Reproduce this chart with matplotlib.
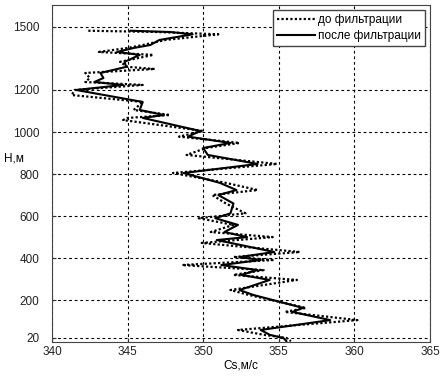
import numpy as np
import matplotlib.pyplot as plt
plt.rcParams["font.family"] = ["Liberation Sans", "DejaVu Sans"]
plt.rcParams.update({'font.size': 8})

# depth (m) and shear-wave velocity (m/s)
depth_raw = [1482, 1476, 1465, 1438, 1414, 1400, 1381, 1367, 1334, 1310, 1300,
             1281, 1257, 1238, 1224, 1200, 1176, 1143, 1105, 1081, 1067, 1057,
             1005, 978, 948, 924, 891, 848, 805, 758, 724, 700, 660, 613, 590,
             558, 524, 500, 472, 429, 405, 391, 367, 343, 320, 296, 248, 225,
             163, 144, 105, 58, 35, 20, 5]
cs_raw = [342.4, 347.0, 351.0, 347.5, 346.0, 345.0, 343.1, 346.7, 344.5, 345.0, 346.8,
          342.2, 342.5, 342.2, 346.0, 341.5, 341.3, 346.0, 345.4, 347.8, 345.0, 344.7,
          350.0, 348.4, 352.4, 350.2, 348.9, 354.9, 348.0, 351.5, 353.6, 350.6, 351.5, 352.8, 349.7,
          352.0, 350.5, 354.6, 349.9, 356.4, 352.0, 354.7, 348.6, 354.0, 352.0, 356.2, 351.8, 353.0,
          356.8, 355.4, 360.2, 352.3, 354.0, 355.5, 355.8]

depth_flt = [1482, 1476, 1465, 1438, 1414, 1400, 1381, 1367, 1334, 1310, 1281,
             1257, 1238, 1224, 1200, 1143, 1105, 1081, 1067, 1005, 978, 948,
             924, 891, 848, 805, 758, 724, 700, 660, 613, 590, 558, 524, 500,
             486, 429, 405, 391, 367, 343, 320, 296, 248, 225, 163, 144, 105,
             58, 35, 20, 5]
cs_flt = [345.2, 347.8, 349.3, 347.1, 346.5, 345.4, 344.3, 345.8, 344.8, 344.9, 343.2,
          343.4, 342.8, 344.7, 341.6, 346.0, 345.8, 347.4, 346.0, 349.8, 349.0, 351.8,
          350.0, 350.3, 353.6, 348.7, 351.1, 352.2, 351.0, 352.0, 351.8, 350.8, 352.3, 351.4, 352.9,
          350.9, 354.7, 352.4, 353.8, 351.2, 353.6, 352.5, 354.4, 352.4, 353.3, 356.6, 355.9, 358.4,
          353.8, 354.4, 355.3, 355.5]

yticks = [20, 200, 400, 600, 800, 1000, 1200, 1500]
xticks = [340, 345, 350, 355, 360, 365]

fig = plt.figure(figsize=(4.41, 3.76), dpi=100)
ax = fig.add_axes([0.118, 0.09, 0.857, 0.897])

ax.plot(cs_raw, depth_raw, color='k', linestyle=(0, (1, 1)), linewidth=1.6, label='до фильтрации')
ax.plot(cs_flt, depth_flt, color='k', linestyle='-', linewidth=1.5, label='после фильтрации')

ax.set_xlim(340, 365)
ax.set_ylim(0, 1605)
ax.set_xticks(xticks)
ax.set_yticks(yticks)
ax.tick_params(direction='in', length=3, colors='#333333', labelcolor='#222222', labelsize=8.5)
ax.tick_params(axis='y', pad=9)
ax.tick_params(axis='x', pad=3)
ax.grid(True, color='k', linestyle=(0, (2.5, 2.5)), linewidth=0.8)
for s in ax.spines.values():
    s.set_color('#444444')

ax.set_xlabel('Cs,м/с', labelpad=1, fontsize=8.5)
ax.set_ylabel('H,м', rotation=0, fontsize=8.5, ha='center', va='center')
ax.yaxis.set_label_coords(-0.1, 0.545)

leg = ax.legend(loc='upper right', fancybox=False, edgecolor='#444444', framealpha=1,
                borderpad=0.35, labelspacing=0.35, handlelength=3.2, handletextpad=0.3,
                borderaxespad=0.4, fontsize=8.5)

fig.savefig('out.png', dpi=100)
